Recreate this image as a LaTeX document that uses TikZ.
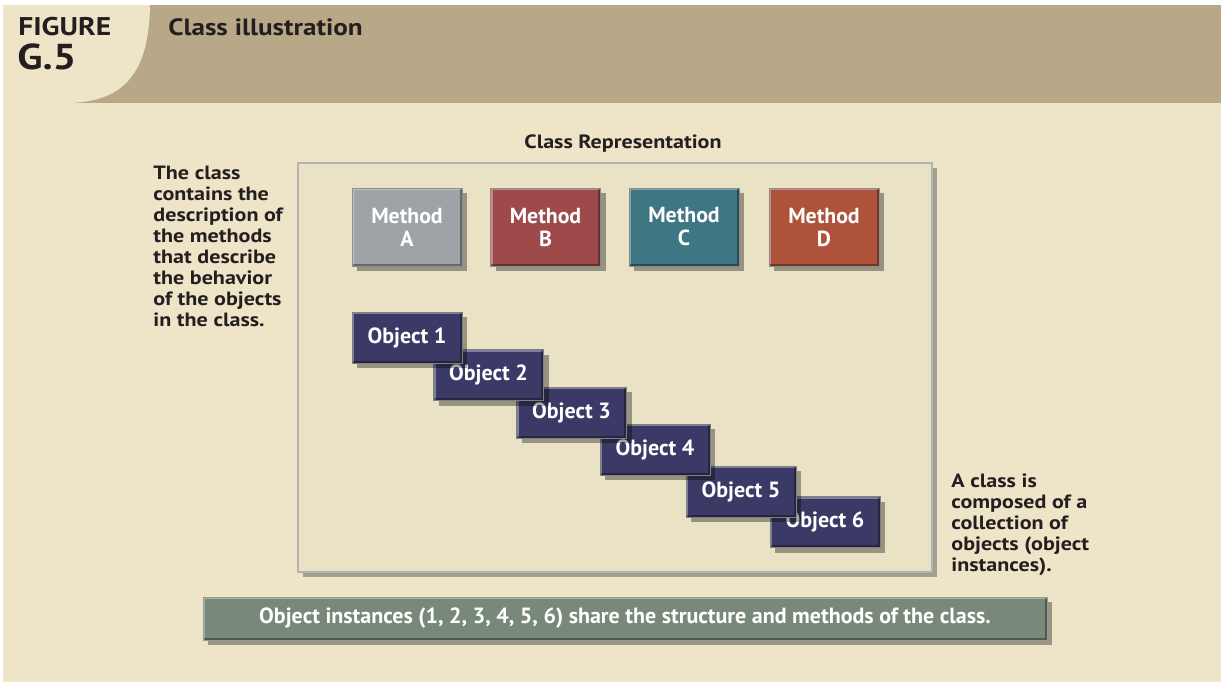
\documentclass[tikz,border=0pt]{standalone}
\usepackage{fontspec}
\setmainfont{PT Sans}
\newfontfamily\widefont[FakeStretch=1.15]{PT Sans}
\usepackage{tikz}
\usetikzlibrary{shadows}

\definecolor{hdrtan}{HTML}{B9A888}
\definecolor{pagebg}{HTML}{EEE4C8}
\definecolor{classbg}{HTML}{E9E2C5}
\definecolor{inkdark}{HTML}{231F20}
\definecolor{methA}{HTML}{9DA3A7}
\definecolor{methB}{HTML}{9E4A4B}
\definecolor{methC}{HTML}{3E7684}
\definecolor{methD}{HTML}{AE5239}
\definecolor{objblue}{HTML}{3B3966}
\definecolor{notegreen}{HTML}{78897A}

\begin{document}
\begin{tikzpicture}[x=0.5pt, y=-0.5pt,
  bevel/.style={path picture={
      \draw[white, opacity=0.35, line width=2.4pt]
        (path picture bounding box.south west) -- (path picture bounding box.north west)
        -- (path picture bounding box.north east);
      \draw[black, opacity=0.35, line width=2.4pt]
        (path picture bounding box.north east) -- (path picture bounding box.south east)
        -- (path picture bounding box.south west);}},
  shade3d/.style={drop shadow={shadow xshift=2.5pt, shadow yshift=-2.5pt,
                  opacity=0.35, fill=black}},
  method/.style={bevel, shade3d, draw=black!45, line width=0.3pt, align=center,
                 minimum width=55pt, minimum height=39pt, inner sep=0pt,
                 text=white, font=\fontsize{10.9}{11.5}\selectfont\bfseries},
  object/.style={bevel, shade3d, fill=objblue, draw=black!50, line width=0.3pt,
                 minimum width=55pt, minimum height=25.5pt, inner sep=0pt,
                 text=white, font=\fontsize{11}{12}\selectfont\bfseries},
  note/.style={align=left, anchor=north west, inner sep=0pt, text=inkdark,
               font=\widefont\fontsize{9.6}{10.5}\selectfont\bfseries},
  head/.style={anchor=west, inner sep=0pt, text=inkdark}
]

  % ========== PAGE + HEADER ==========
  \useasboundingbox (0,0) rectangle (1221,682);
  \fill[white] (0,0) rectangle (1221,682);
  \fill[pagebg] (3,5) rectangle (1221,682);
  \fill[hdrtan] (3,5) rectangle (1221,103);
  \fill[pagebg] (3,5) -- (150,5) .. controls (149,72) and (125,101) .. (70,103)
    -- (3,103) -- cycle;

  \node[head, font=\widefont\fontsize{12.8}{14}\selectfont\bfseries]
    (fig) at (18,27) {FIGURE};
  \node[head, font=\widefont\fontsize{18}{20}\selectfont\bfseries]
    (fignum) at (17,57) {G.5};
  \node[head, font=\widefont\fontsize{11.8}{14}\selectfont\bfseries]
    (title) at (168,27) {Class illustration};

  % ========== CLASS BOX ==========
  \node[fill=classbg, draw=black!30, line width=0.6pt, minimum width=317pt,
        minimum height=204.5pt,
        drop shadow={shadow xshift=2.5pt, shadow yshift=-2.5pt, opacity=0.45, fill=black!70}]
    (classbox) at (615,367.5) {};
  \node[inner sep=0pt, text=inkdark, font=\widefont\fontsize{9.6}{11}\selectfont\bfseries]
    (classlbl) at (623,144) {Class Representation};

  % ========== METHODS ==========
  \node[method, fill=methA] (methA) at (407,227)   {Method\\A};
  \node[method, fill=methB] (methB) at (545.5,227) {Method\\B};
  \node[method, fill=methC] (methC) at (684,227)   {Method\\C};
  \node[method, fill=methD] (methD) at (824,227)   {Method\\D};

  % ========== OBJECTS (back to front) ==========
  \node[object] (obj6) at (825,522)     {Object 6};
  \node[object] (obj5) at (741,491.5)   {Object 5};
  \node[object] (obj4) at (655,449.5)   {Object 4};
  \node[object] (obj3) at (571.5,412.5) {Object 3};
  \node[object] (obj2) at (488.5,375)   {Object 2};
  \node[object] (obj1) at (407,337.5)   {Object 1};

  % ========== SIDE NOTES ==========
  \node[note] (leftnote) at (153,166) {The class\\contains the\\description of\\the methods\\that describe\\the behavior\\of the objects\\in the class.};
  \node[note] (rightnote) at (951,473) {A class is\\composed of a\\collection of\\objects (object\\instances).};

  % ========== BOTTOM BANNER ==========
  \node[bevel, fill=notegreen, draw=black!40, line width=0.3pt,
        minimum width=422pt, minimum height=21.5pt, inner sep=0pt, text=white,
        font=\fontsize{11}{12}\selectfont\bfseries,
        drop shadow={shadow xshift=2.5pt, shadow yshift=-2.5pt, opacity=0.35, fill=black}]
    (banner) at (625,618.5)
    {Object instances (1, 2, 3, 4, 5, 6) share the structure and methods of the class.};

\end{tikzpicture}
\end{document}
